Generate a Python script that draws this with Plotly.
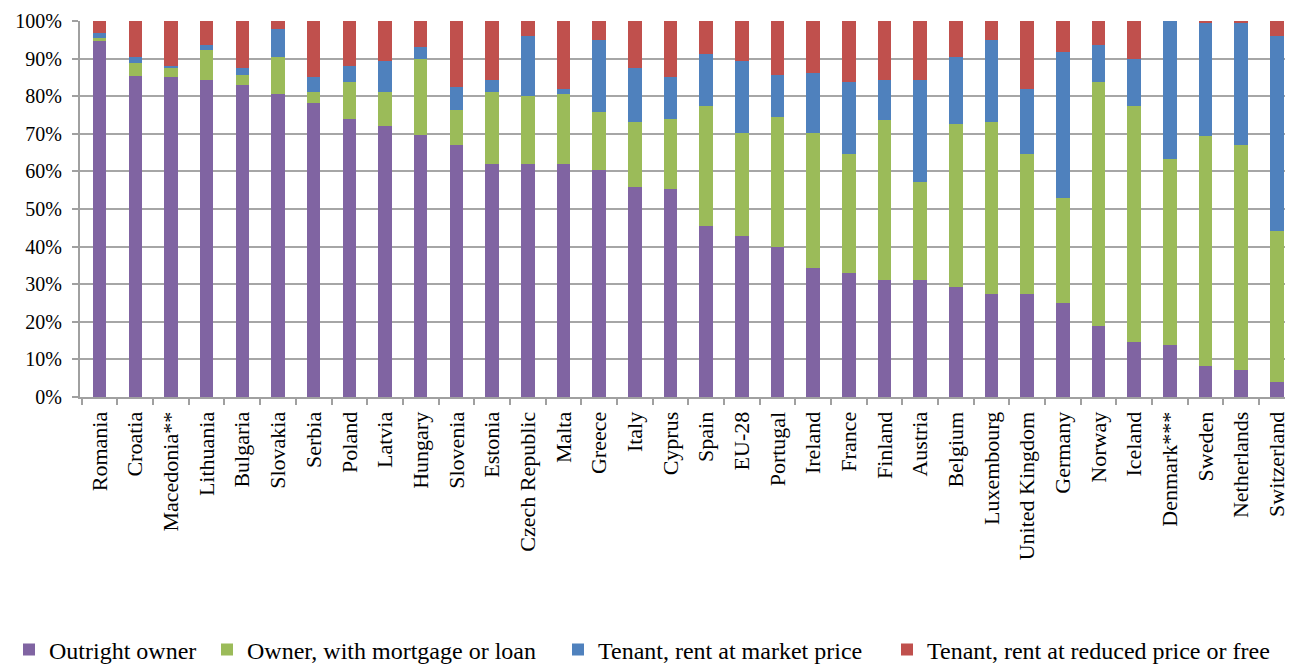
import plotly.graph_objects as go

countries = ["Romania", "Croatia", "Macedonia**", "Lithuania", "Bulgaria", "Slovakia", "Serbia",
             "Poland", "Latvia", "Hungary", "Slovenia", "Estonia", "Czech Republic", "Malta",
             "Greece", "Italy", "Cyprus", "Spain", "EU-28", "Portugal", "Ireland", "France",
             "Finland", "Austria", "Belgium", "Luxembourg", "United Kingdom", "Germany",
             "Norway", "Iceland", "Denmark***", "Sweden", "Netherlands", "Switzerland"]

outright = [94.9, 85.5, 85.0, 84.3, 83.1, 80.6, 78.1,
            73.9, 72.0, 69.6, 67.1, 62.1, 62.1, 62.1,
            60.3, 55.9, 55.3, 45.4, 42.9, 39.8, 34.3, 33.0,
            31.2, 31.2, 29.3, 27.4, 27.4, 25.0,
            18.8, 14.5, 13.9, 8.3, 7.1, 4.0]
mortgage = [0.5, 3.2, 2.4, 8.0, 2.6, 9.9, 3.1,
            9.8, 9.2, 20.3, 9.2, 19.1, 17.9, 18.5,
            15.4, 17.3, 18.6, 32.1, 27.2, 34.6, 35.8, 31.6,
            42.6, 26.0, 43.3, 45.8, 37.2, 27.8,
            64.9, 63.0, 49.4, 61.2, 59.9, 40.2]
market = [1.3, 1.8, 0.7, 1.3, 1.7, 7.5, 3.8,
          4.4, 8.1, 3.1, 6.2, 3.1, 16.1, 1.3,
          19.2, 14.2, 11.1, 13.7, 19.2, 11.2, 16.1, 19.1,
          10.5, 27.1, 17.9, 21.7, 17.3, 39.0,
          9.9, 12.4, 36.7, 30.1, 32.6, 51.9]
reduced = [3.3, 9.5, 11.9, 6.4, 12.6, 2.0, 15.0,
           11.9, 10.7, 7.0, 17.5, 15.7, 3.9, 18.1,
           5.1, 12.6, 15.0, 8.8, 10.7, 14.4, 13.8, 16.3,
           15.7, 15.7, 9.5, 5.1, 18.1, 8.2,
           6.4, 10.1, 0.0, 0.4, 0.4, 3.9]

# page body has an 8px default margin, so the figure is sized to fit inside the window
W, H = 1285, 657
series = [
    ("Outright owner", outright, "#8064A2", "legend", 1),
    ("Owner, with mortgage or loan", mortgage, "#9BBB59", "legend2", 199),
    ("Tenant, rent at market price", market, "#4F81BD", "legend3", 550),
    ("Tenant, rent at reduced price or free", reduced, "#C0504D", "legend4", 879),
]

FONT = "Liberation Serif"

fig = go.Figure()
for name, vals, color, leg, _ in series:
    fig.add_trace(go.Bar(
        x=countries, y=vals, name=name, marker_color=color,
        marker_line_width=0, width=0.38, legend=leg,
    ))

legend_common = dict(
    orientation="h", xref="container", yref="container",
    yanchor="middle", y=(H - 642) / H, xanchor="left",
    font=dict(family=FONT, size=24, color="#000000"),
    bgcolor="rgba(0,0,0,0)", itemwidth=30, tracegroupgap=0,
)
layout_legends = {}
for name, vals, color, leg, px in series:
    layout_legends[leg] = dict(legend_common, x=px / W)

fig.update_layout(
    width=W, height=H,
    margin=dict(l=72, r=0, t=13, b=268, autoexpand=False),
    barmode="stack",
    plot_bgcolor="white", paper_bgcolor="white",
    showlegend=True,
    font=dict(family=FONT, size=21, color="#000000"),
    **layout_legends,
)
fig.update_xaxes(
    tickangle=-90, ticks="outside", tickson="boundaries", ticklen=6,
    tickcolor="#a0a0a0", tickwidth=2,
    showline=True, linecolor="#a0a0a0", linewidth=2,
    showgrid=False, range=[-0.55, 33.45],
    tickfont=dict(family=FONT, size=22, color="#000000"),
    ticklabelstandoff=4,
)
fig.update_yaxes(
    range=[0, 100], dtick=10, ticksuffix="%",
    ticks="outside", ticklen=6, tickcolor="#a0a0a0", tickwidth=2,
    showline=True, linecolor="#a0a0a0", linewidth=2,
    showgrid=True, gridcolor="#a6a6a6", gridwidth=2,
    tickfont=dict(family=FONT, size=20, color="#000000"),
    zeroline=False, ticklabelstandoff=6,
)

fig.write_html("out.html")
